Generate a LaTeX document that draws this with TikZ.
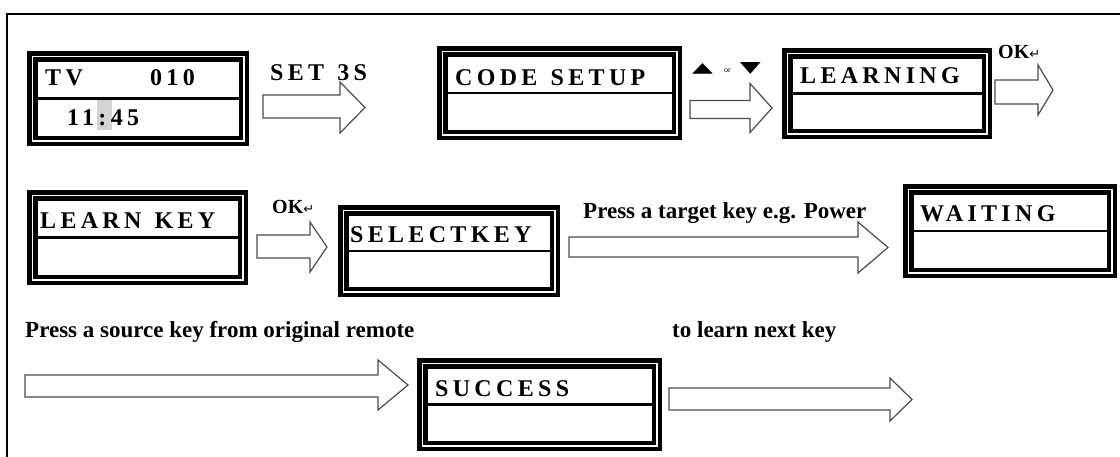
\documentclass[tikz,border=0pt]{standalone}
\usepackage{graphicx}
\usepackage{fontspec}
\setmainfont{Liberation Serif}
\newfontfamily\lcdfont{Liberation Serif}[LetterSpace=18]
\newfontfamily\symfont{DejaVu Sans}
\usetikzlibrary{calc}

\tikzset{
  frame/.style={line width=2.6pt},
  lcdbox/.style={draw=black, line width=4.5pt, double=white, double distance=1.5pt,
                 fill=white, inner sep=0pt},
  divider/.style={line width=2.2pt},
  lcdtext/.style={anchor=base west, inner sep=0pt,
                  font=\lcdfont\bfseries\fontsize{24}{28}\selectfont},
  caption/.style={anchor=base west, inner sep=0pt,
                  font=\bfseries\fontsize{23}{27}\selectfont},
  oklabel/.style={anchor=base west, inner sep=0pt,
                  font=\bfseries\fontsize{20}{24}\selectfont},
  blockarr/.style={draw=black!70, line width=1.2pt, fill=white, line join=miter},
}

% wide word gap for the spaced-out screen lettering
\newcommand\gap{\hspace{0.55em}}

% LCD screen: double border with a rule across the middle
\newcommand\lcd[5]{% name, centre x, centre y, width, height
  \node[lcdbox, minimum width=#4pt, minimum height=#5pt] (#1) at (#2,#3) {};
  \draw[divider] ([xshift=5.25pt]#1.west) -- ([xshift=-5.25pt]#1.east);
}

% hollow block arrow: tail, tip, half shaft, half head, head length
\newcommand\blockarrow[5]{%
  \draw[blockarr] let \p1=(#1), \p2=(#2) in
    (\x1,\y1+#3pt) -- (\x2-#5pt,\y1+#3pt) -- (\x2-#5pt,\y2+#4pt) -- (\x2,\y2)
    -- (\x2-#5pt,\y2-#4pt) -- (\x2-#5pt,\y1-#3pt) -- (\x1,\y1-#3pt) -- cycle;
}

\newcommand\okret{OK{\mdseries\symfont\fontsize{13}{15}\selectfont ↵}}

\begin{document}
\begin{tikzpicture}[x=1pt, y=-1pt]
  \useasboundingbox (0,0) rectangle (1120,456);
  \fill[white] (0,0) rectangle (1120,456);

  % page frame (left and top edges)
  \draw[frame] (7,458) -- (7,14) -- (1122,14);

  % ---- row 1 ----
  \lcd{tv}{138}{98.5}{211.5}{84.5}
  \fill[black!17] (97,100) rectangle (112,130);
  \node[lcdtext] (tvlabel) at (45,85) {TV};
  \node[lcdtext] (tvcode) at (150,85) {010};
  \node[lcdtext] (tvtime) at (67,125) {11:45};

  \coordinate (a1tail) at (263,106.5);
  \coordinate (a1tip)  at (365,107.5);
  \blockarrow{a1tail}{a1tip}{11.5}{25.5}{25}
  \node[lcdtext] (set3s) at (270,80) {SET\gap 3S};

  \lcd{codesetup}{559.5}{93}{234.5}{83.5}
  \node[lcdtext] (codelabel) at (455,85) {CODE\gap SETUP};

  \coordinate (a2tail) at (690,109.5);
  \coordinate (a2tip)  at (772,108);
  \blockarrow{a2tail}{a2tip}{9}{24.5}{22}
  \node[anchor=base west, inner sep=0pt] (updown) at (692,72)
    {\resizebox{21pt}{9pt}{\symfont ▲}\hspace{11pt}{\fontsize{8}{9}\selectfont or}\hspace{9pt}\resizebox{21pt}{10pt}{\symfont ▼}};

  \lcd{learning}{887}{93.5}{199.5}{80.5}
  \node[lcdtext] (learnlabel) at (800,83) {LEARNING};

  \coordinate (a3tail) at (995,92);
  \coordinate (a3tip)  at (1053,90);
  \blockarrow{a3tail}{a3tip}{12}{25}{15}
  \node[oklabel] (ok1) at (998,58) {\okret};

  % ---- row 2 ----
  \lcd{learnkey}{137.5}{237.5}{210.5}{84.5}
  \node[lcdtext] (learnkeylabel) at (40,228) {LEARN\gap KEY};

  \coordinate (a4tail) at (257,246.5);
  \coordinate (a4tip)  at (327,247);
  \blockarrow{a4tail}{a4tip}{11.5}{25}{17}
  \node[oklabel] (ok2) at (272,213) {\okret};

  \lcd{selectkey}{449}{251}{211.5}{81.5}
  \node[lcdtext] (selectlabel) at (350,242) {SELECTKEY};

  \coordinate (a5tail) at (569,247);
  \coordinate (a5tip)  at (888,247.5);
  \blockarrow{a5tail}{a5tip}{10}{25.5}{30}
  \node[caption] (target) at (583,218) {Press a target key e.g. Power};

  \lcd{waiting}{1010}{231}{203.5}{83.5}
  \node[lcdtext] (waitlabel) at (920,221) {WAITING};

  % ---- row 3 ----
  \node[caption] (source) at (25,337) {Press a source key from original remote};
  \coordinate (a6tail) at (25,386);
  \coordinate (a6tip)  at (408,385);
  \blockarrow{a6tail}{a6tip}{11}{25}{30}

  \lcd{success}{539.5}{404.5}{234.5}{82.5}
  \node[lcdtext] (successlabel) at (435,396) {SUCCESS};

  \node[caption] (next) at (672,337) {to learn next key};
  \coordinate (a7tail) at (669,399);
  \coordinate (a7tip)  at (912,399.5);
  \blockarrow{a7tail}{a7tip}{11}{21.5}{22}
\end{tikzpicture}
\end{document}
